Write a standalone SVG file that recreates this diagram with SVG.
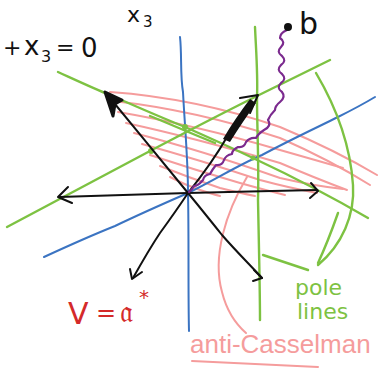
<svg xmlns="http://www.w3.org/2000/svg" width="378" height="369" viewBox="0 0 378 369">
<style>
.g{fill:none;stroke:#7dc242;stroke-width:2.4;stroke-linecap:round;stroke-linejoin:round}
.bl{fill:none;stroke:#3b74c2;stroke-width:2;stroke-linecap:round;stroke-linejoin:round}
.pk{fill:none;stroke:#f59c9c;stroke-width:2;stroke-linecap:round;stroke-linejoin:round}
.k{fill:none;stroke:#111;stroke-width:2;stroke-linecap:round;stroke-linejoin:round}
.pu{fill:none;stroke:#7b2a8e;stroke-width:2.2;stroke-linecap:round;stroke-linejoin:round}
.t{font-family:"DejaVu Sans","Liberation Sans",sans-serif}
.ls{font-family:"Liberation Sans","DejaVu Sans",sans-serif}
</style>
<rect width="378" height="369" fill="#fff"/>
<g id="hatch">
<path class="pk" d="M110,92 Q195,98 280,127 Q335,150 377,175"/>
<path class="pk" d="M113,101 Q195,110 280,138 Q330,160 370,185"/>
<path class="pk" d="M118,112 Q195,125 280,150 Q315,160 343,168"/>
<path class="pk" d="M126,123 Q195,138 280,163 Q315,178 347,190"/>
<path class="pk" d="M134,133 Q200,150 280,178 Q315,186 343,189"/>
<path class="pk" d="M142,144 Q200,160 260,180 Q290,188 317,193"/>
<path class="pk" d="M150,155 Q195,170 240,183 Q265,190 285,195"/>
<path class="pk" d="M160,166 Q190,178 220,188 Q240,193 255,196"/>
<path class="pk" d="M170,177 Q185,185 200,190 Q212,194 220,196"/>
<path class="pk" d="M247,177 C226,212 212,256 222,292 C227,312 238,326 246,333"/>
</g>
<g id="connectors">
<path class="bl" d="M180,37 C182,55 180,75 183,92 C185,130 188,160 188,193 C189,240 188,290 189,331"/>
<path class="bl" d="M44,257 C70,245 95,234 115,226 C140,214 165,203 188,193 C215,180 238,165 262,155 C290,140 320,126 338,117 C352,110 365,103 375,97"/>
<path class="g" d="M58,72 C80,82 95,89 110,95 C135,106 160,117 185,127 C210,138 232,148 253,158 C285,173 320,190 368,218"/>
<path class="g" d="M150,116 C170,124 190,133 215,143" stroke-width="1.6"/>
<path class="g" d="M7,227 C50,204 100,178 150,151 C190,130 225,112 257,96 C285,82 310,70 330,60"/>
<path class="g" d="M255,27 C256,50 258,75 257,97 C257,130 259,160 258,200 C259,250 260,290 260,320"/>
<path class="g" d="M316,73 C332,100 350,140 353,185 C355,215 342,245 318,265"/>
<path class="g" d="M338,213 C332,230 325,248 318,263"/>
<path class="g" d="M263,255 L308,270"/>
<circle cx="185" cy="127" r="3" fill="#7dc242"/>
<circle cx="151" cy="151" r="3" fill="#7dc242"/>
<circle cx="253" cy="158" r="2.5" fill="#7dc242"/>
<path class="k" d="M188,193 C150,194 100,196 59,197"/>
<polyline class="k" points="68,187 58,197 72,203"/>
<path class="k" d="M188,193 C230,192 280,191 317,190"/>
<polyline class="k" points="311,183 318,191 310,198"/>
<path class="k" d="M188,193 C165,165 135,128 110,98"/>
<polygon points="105,92 122,100 115,104 113,116" fill="#111" stroke="#111" stroke-width="3" stroke-linejoin="round"/>
<path class="k" d="M188,193 C200,178 215,158 227,137"/>
<path d="M223,139 C231,125 241,111 250,99 L256,103 C247,116 238,129 230,142 Z" fill="#111"/>
<polyline class="k" points="240,98 258,95 250,113" stroke-width="2.6"/>
<path class="k" d="M188,193 C178,208 168,222 160,233 C150,248 142,262 133,278"/>
<polyline class="k" points="130,269 132,279 142,272"/>
<path class="k" d="M188,193 C198,205 210,220 222,235 C235,250 250,265 262,278"/>
<polyline class="k" points="254,270 262,278 253,281"/>
<path class="pu" d="M287,30 Q280,33 280,38 Q286,42 281,47 Q276,52 282,56 Q287,61 281,65 Q276,70 282,74 Q287,79 281,83 Q276,88 282,92 Q286,97 280,102 Q275,106 275,110 Q270,115 268,120 Q272,126 264,130 Q258,134 256,138 Q250,137 246,142 Q244,148 238,147 Q232,150 232,154 Q226,155 224,160 Q222,166 216,165 Q212,170 210,174 Q204,175 203,180 Q198,186 194,186 Q192,190 189,192"/>
</g>
<g id="b">
<circle cx="288" cy="27" r="4" fill="#111"/>
<text class="t" x="299" y="34" font-size="30" fill="#111">b</text>
</g>
<g id="x3">
<text class="t" x="127" y="22" font-size="22" fill="#111">x</text>
<text class="t" x="143" y="27" font-size="15" fill="#111">3</text>
</g>
<g id="eq">
<text class="t" x="3" y="55" font-size="22" fill="#111">+</text>
<text class="t" x="24" y="55" font-size="26" fill="#111">x</text>
<text class="t" x="41" y="62" font-size="16" fill="#111">3</text>
<text class="t" x="56" y="55" font-size="22" fill="#111">=</text>
<text class="t" x="81" y="57" font-size="26" fill="#111">0</text>
</g>
<g id="V">
<text class="t" x="68" y="324" font-size="30" fill="#d42a2a">V</text>
<text class="t" x="96" y="321" font-size="24" fill="#d42a2a">=</text>
<text class="t" x="120" y="322" font-size="30" fill="#d42a2a">𝔞</text>
<text class="t" x="139" y="304" font-size="20" fill="#d42a2a">*</text>
</g>
<g id="pole">
<text class="t" x="295" y="295" font-size="22" fill="#7dc242">pole</text>
<text class="t" x="297" y="319" font-size="22" fill="#7dc242">lines</text>
</g>
<g id="anti">
<text class="ls" x="190" y="353" font-size="26" fill="#f59c9c">anti-Casselman</text>
<path class="pk" d="M192,361 C240,363 280,365 318,367"/>
</g>
</svg>
